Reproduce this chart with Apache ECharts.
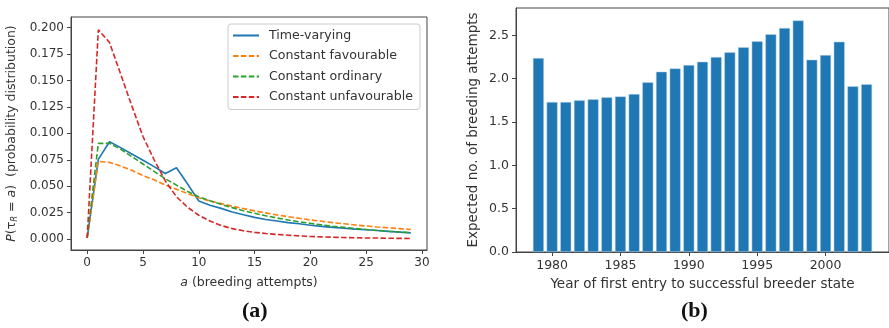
<!DOCTYPE html>
<html>
<head>
<meta charset="utf-8">
<script src="https://cdn.jsdelivr.net/npm/echarts@6/dist/echarts.min.js"></script>
<style>
  html, body { margin: 0; padding: 0; background: #fff; }
  #chart { width: 889px; height: 328px; }
</style>
</head>
<body>
<div id="chart"></div>
<script>
  // (a) probability distribution, a = 0..29
  var attempts = [0,1,2,3,4,5,6,7,8,9,10,11,12,13,14,15,16,17,18,19,20,21,22,23,24,25,26,27,28,29];
  var timeVarying = [0.001,0.0754,0.092,0.0865,0.0805,0.0745,0.0685,0.062,0.0675,0.052,0.036,0.032,0.029,0.0255,0.023,0.0205,0.0185,0.017,0.0155,0.0145,0.013,0.012,0.011,0.0102,0.0094,0.0087,0.008,0.0072,0.0065,0.0058];
  var constFavourable = [0.001,0.0735,0.0725,0.069,0.065,0.060,0.056,0.051,0.047,0.043,0.039,0.036,0.0335,0.031,0.0288,0.0266,0.0247,0.0228,0.0211,0.0196,0.018,0.0168,0.0155,0.0144,0.0133,0.0123,0.0114,0.0106,0.0098,0.009];
  var constOrdinary = [0.001,0.0905,0.0905,0.085,0.078,0.071,0.064,0.057,0.051,0.045,0.040,0.0362,0.0328,0.0297,0.0268,0.0243,0.022,0.0199,0.018,0.0163,0.0148,0.0134,0.0121,0.011,0.0099,0.009,0.0081,0.0073,0.0066,0.006];
  var constUnfavourable = [0.001,0.198,0.186,0.156,0.126,0.097,0.075,0.055,0.040,0.030,0.0225,0.017,0.0128,0.0098,0.0078,0.0063,0.0052,0.0043,0.0036,0.003,0.0024,0.002,0.0017,0.0014,0.0012,0.001,0.0009,0.0007,0.0006,0.0005];
  var leftXTicks = [0,5,10,15,20,25,30];
  var leftYTicks = [0,0.025,0.05,0.075,0.1,0.125,0.15,0.175,0.2];

  // (b) expected number of breeding attempts by year
  var years = [1979,1980,1981,1982,1983,1984,1985,1986,1987,1988,1989,1990,1991,1992,1993,1994,1995,1996,1997,1998,1999,2000,2001,2002,2003];
  var expectedAttempts = [2.238,1.731,1.731,1.75,1.762,1.785,1.796,1.823,1.958,2.081,2.119,2.158,2.196,2.25,2.304,2.362,2.431,2.512,2.585,2.673,2.219,2.273,2.427,1.912,1.935];
  var rightXTicks = [1980,1985,1990,1995,2000];
  var rightYTicks = [0,0.5,1,1.5,2,2.5];

  var font = 'DejaVu Sans';
  var txt = '#333';

  function pairs(xs, ys) {
    return xs.map(function (x, i) { return [x, ys[i]]; });
  }

  function lineSeries(name, data, color, dashed) {
    return {
      name: name, type: 'line', xAxisIndex: 0, yAxisIndex: 0,
      data: pairs(attempts, data),
      showSymbol: false, symbol: 'none', animation: false,
      lineStyle: { color: color, width: 1.6, type: dashed ? [5.5, 2.4] : 'solid' },
      itemStyle: { color: color }
    };
  }

  function axisBase(tickSize, nameSize) {
    return {
      axisLine: { show: true, onZero: false, lineStyle: { color: '#444', width: 1 } },
      axisTick: { show: true, length: 4, lineStyle: { color: '#444' } },
      splitLine: { show: false },
      axisLabel: { color: txt, fontFamily: font, fontSize: tickSize },
      nameTextStyle: { color: txt, fontFamily: font, fontSize: nameSize }
    };
  }

  var xa0 = axisBase(12, 12.5);
  Object.assign(xa0, {
    type: 'value', gridIndex: 0, min: -1.45, max: 30.45,
    name: '{i|a} (breeding attempts)', nameLocation: 'middle', nameGap: 26
  });
  xa0.axisLabel.customValues = leftXTicks;
  xa0.axisLabel.margin = 7;
  xa0.axisTick.customValues = leftXTicks;
  xa0.nameTextStyle.rich = { i: { fontStyle: 'italic', fontFamily: font, fontSize: 12.5, color: txt } };

  var ya0 = axisBase(12, 12.5);
  Object.assign(ya0, {
    type: 'value', gridIndex: 0, min: -0.0104, max: 0.2101,
    name: '{i|P}(τ{s|R} = {i|a})  (probability distribution)', nameLocation: 'middle', nameGap: 52, nameRotate: 90
  });
  ya0.axisLabel.customValues = leftYTicks;
  ya0.axisLabel.margin = 7;
  ya0.axisLabel.formatter = function (v) { return v.toFixed(3); };
  ya0.axisTick.customValues = leftYTicks;
  ya0.nameTextStyle.rich = {
    i: { fontStyle: 'italic', fontFamily: font, fontSize: 12.5, color: txt },
    s: { fontStyle: 'italic', fontFamily: font, fontSize: 8.5, color: txt, verticalAlign: 'bottom', padding: [6, 0, 0, 0] }
  };

  var xa1 = axisBase(12.5, 13.5);
  Object.assign(xa1, {
    type: 'value', gridIndex: 1, min: 1977.36, max: 2004.64,
    name: 'Year of first entry to successful breeder state', nameLocation: 'middle', nameGap: 25
  });
  xa1.axisLabel.customValues = rightXTicks;
  xa1.axisLabel.margin = 7;
  xa1.axisLabel.formatter = function (v) { return String(v); };
  xa1.axisTick.customValues = rightXTicks;

  var ya1 = axisBase(12.5, 13.5);
  Object.assign(ya1, {
    type: 'value', gridIndex: 1, min: 0, max: 2.816,
    name: 'Expected no. of breeding attempts', nameLocation: 'middle', nameGap: 36, nameRotate: 90
  });
  ya1.axisLabel.customValues = rightYTicks;
  ya1.axisLabel.margin = 7;
  ya1.axisLabel.formatter = function (v) { return v.toFixed(1); };
  ya1.axisTick.customValues = rightYTicks;

  var chart = echarts.init(document.getElementById('chart'), null, { renderer: 'canvas' });
  chart.setOption({
    animation: false,
    backgroundColor: '#fff',
    grid: [
      { left: 71, top: 17, width: 356, height: 233, show: true, borderColor: '#444', borderWidth: 1, backgroundColor: 'transparent' },
      { left: 516, top: 8, width: 374, height: 244, show: true, borderColor: '#444', borderWidth: 1, backgroundColor: 'transparent' }
    ],
    xAxis: [xa0, xa1],
    yAxis: [ya0, ya1],
    legend: {
      orient: 'vertical', left: 228, top: 24,
      padding: [5, 7, 6, 4], itemGap: 7.5, itemWidth: 26, itemHeight: 14,
      backgroundColor: 'rgba(255,255,255,0.8)', borderColor: '#ccc', borderWidth: 1, borderRadius: 3,
      itemStyle: { opacity: 0 },
      textStyle: { color: txt, fontFamily: font, fontSize: 12.6, padding: [0, 0, 0, 5] },
      data: ['Time-varying', 'Constant favourable', 'Constant ordinary', 'Constant unfavourable']
    },
    series: [
      lineSeries('Time-varying', timeVarying, '#1f77b4', false),
      lineSeries('Constant favourable', constFavourable, '#ff7f0e', true),
      lineSeries('Constant ordinary', constOrdinary, '#2ca02c', true),
      lineSeries('Constant unfavourable', constUnfavourable, '#d62728', true),
      {
        name: 'Expected', type: 'bar', xAxisIndex: 1, yAxisIndex: 1,
        data: pairs(years, expectedAttempts),
        barWidth: 11, animation: false,
        itemStyle: { color: '#1f77b4', borderColor: '#bcd6ec', borderWidth: 0.5 }
      }
    ],
    graphic: [
      { type: 'text', left: 242, top: 300, style: { text: '(a)', font: 'bold 22px "Liberation Serif"', fill: '#111' } },
      { type: 'text', left: 681, top: 300, style: { text: '(b)', font: 'bold 22px "Liberation Serif"', fill: '#111' } }
    ]
  });
</script>
</body>
</html>
